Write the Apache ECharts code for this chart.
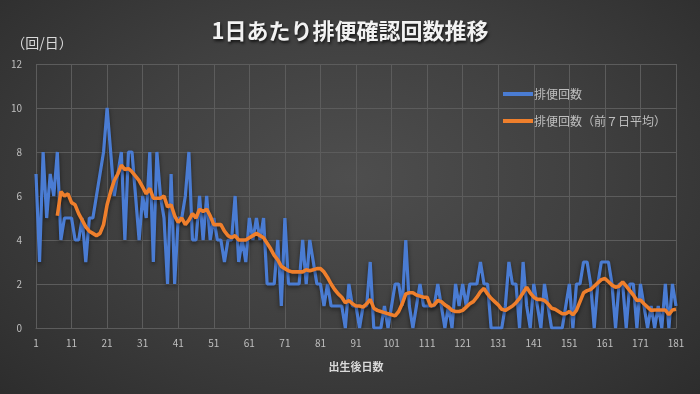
<!DOCTYPE html>
<html><head><meta charset="utf-8">
<script src="https://cdn.jsdelivr.net/npm/echarts@6/dist/echarts.min.js"></script>
<style>
html,body{margin:0;padding:0;width:700px;height:394px;overflow:hidden;}
body{background:radial-gradient(ellipse 75% 85% at 50% 45%, #4e4e4e 0%, #404040 45%, #2a2a2a 100%);}
#c{width:700px;height:394px;}
</style></head>
<body><div id="c"></div>
<script>
const title = '1日あたり排便確認回数推移';
const yName = '（回/日）';
const xName = '出生後日数';
const seriesNames = ['排便回数', '排便回数（前７日平均）'];
const days = Array.from({length:181}, (_, i) => String(i + 1));
const daily = [
 7,3,8,5,7,6,8,4,5,5,
 5,4,4,5,3,5,5,6,7,8,
 10,8,6,7,8,4,8,8,6,4,
 6,5,8,3,8,6,5,2,7,2,
 5,5,6,8,4,4,6,4,6,4,
 5,4,4,3,4,4,6,3,4,3,
 5,4,5,4,5,2,2,2,4,1,
 5,2,2,2,2,4,2,4,3,2,
 2,1,2,1,1,1,1,0,2,1,
 1,0,1,1,3,0,0,0,1,0,
 1,2,2,1,4,1,0,1,2,1,
 1,1,1,2,1,0,1,0,2,1,
 2,1,2,2,2,3,2,2,0,0,
 0,0,1,3,2,2,0,3,1,0,
 2,1,0,2,1,0,0,0,0,1,
 2,0,2,2,3,3,2,0,2,3,
 3,3,2,0,2,2,0,2,2,0,
 2,1,0,1,0,1,0,2,0,2,1
];
const avg7 = [
 null,null,null,null,null,null,5.1,6.2,6.0,6.1,
 5.7,5.6,5.2,4.9,4.6,4.4,4.3,4.2,4.3,4.7,
 5.6,6.2,6.7,7.0,7.4,7.2,7.25,7.1,6.9,6.7,
 6.4,6.1,6.35,5.9,5.9,5.9,6.0,5.5,5.6,5.1,
 4.8,5.0,4.7,4.9,5.2,5.0,5.4,5.3,5.4,5.1,
 4.7,4.7,4.7,4.4,4.2,4.1,4.2,4.0,4.0,4.0,
 4.1,4.2,4.3,4.2,4.1,3.85,3.6,3.3,3.1,2.8,
 2.7,2.6,2.55,2.55,2.55,2.55,2.65,2.6,2.65,2.7,
 2.7,2.55,2.3,2.0,1.75,1.55,1.4,1.15,1.25,1.1,
 1.0,1.0,0.95,1.1,1.3,0.9,0.8,0.75,0.7,0.65,
 0.6,0.55,0.75,1.1,1.55,1.6,1.6,1.5,1.45,1.4,
 1.4,1.0,1.05,1.25,1.2,1.05,0.95,0.8,0.75,0.75,
 0.8,0.95,1.1,1.2,1.4,1.65,1.8,1.55,1.35,1.2,
 1.05,0.85,0.8,0.9,1.0,1.15,1.35,1.6,1.85,1.6,
 1.4,1.3,1.3,1.25,1.1,0.9,0.85,0.75,0.65,0.65,
 0.75,0.6,0.8,1.2,1.6,1.7,1.75,1.9,2.05,2.2,
 2.25,2.1,1.95,1.85,1.9,2.1,1.9,1.7,1.5,1.25,
 1.27,1.1,0.95,0.8,0.82,0.82,0.82,0.82,0.6,0.82,0.85
];
const FONT = '"Noto Sans CJK JP", "Noto Sans", sans-serif';
const chart = echarts.init(document.getElementById('c'), null, {renderer:'canvas'});
chart.setOption({
  backgroundColor: 'transparent',
  animation: false,
  textStyle: {fontFamily: FONT},
  title: {
    text: title, left: 'center', top: 15,
    textStyle: {color:'#f2f2f2', fontSize:22, fontWeight:'bold', fontFamily: FONT,
      textShadowColor:'rgba(0,0,0,0.7)', textShadowBlur:3, textShadowOffsetX:1, textShadowOffsetY:2}
  },
  legend: {
    orient: 'vertical', left: 498, top: 83, itemGap: 15,
    itemWidth: 30, itemHeight: 4, icon: 'rect',
    textStyle: {color:'#bfbfbf', fontSize:12, fontFamily: FONT, padding:[0,0,0,-4]},
    data: seriesNames
  },
  grid: {left:36, right:24, top:64, bottom:66, containLabel:false},
  xAxis: {
    type:'category', data: days, boundaryGap:false,
    name: xName, nameLocation:'middle', nameGap:33,
    nameTextStyle:{color:'#d9d9d9', fontSize:11, fontWeight:'bold', fontFamily: FONT},
    axisLine:{show:true, lineStyle:{color:'#5c5c5c'}},
    axisTick:{show:false},
    axisLabel:{interval:9, color:'#bfbfbf', fontSize:10, margin:10},
    splitLine:{show:true, interval:9, lineStyle:{color:'#5c5c5c', width:1}}
  },
  yAxis: {
    type:'value', min:0, max:12, interval:2,
    name: yName, nameLocation:'end', nameGap:14,
    nameTextStyle:{color:'#d9d9d9', fontSize:14, fontFamily: FONT, align:'center', padding:[0,0,0,12]},
    axisLine:{show:false}, axisTick:{show:false},
    axisLabel:{color:'#bfbfbf', fontSize:10, margin:14},
    splitLine:{show:true, lineStyle:{color:'#5c5c5c', width:1}}
  },
  series: [
    {name: seriesNames[0], type:'line', data: daily, showSymbol:false, symbol:'none',
     lineStyle:{color:'#4a7cd3', width:3.2, shadowColor:'rgba(0,0,0,0.5)', shadowBlur:4, shadowOffsetY:2},
     itemStyle:{color:'#4a7cd3'}},
    {name: seriesNames[1], type:'line', data: avg7, showSymbol:false, symbol:'none',
     lineStyle:{color:'#ef7f2c', width:3.6, shadowColor:'rgba(0,0,0,0.5)', shadowBlur:4, shadowOffsetY:2},
     itemStyle:{color:'#ef7f2c'}}
  ]
});
</script></body></html>
